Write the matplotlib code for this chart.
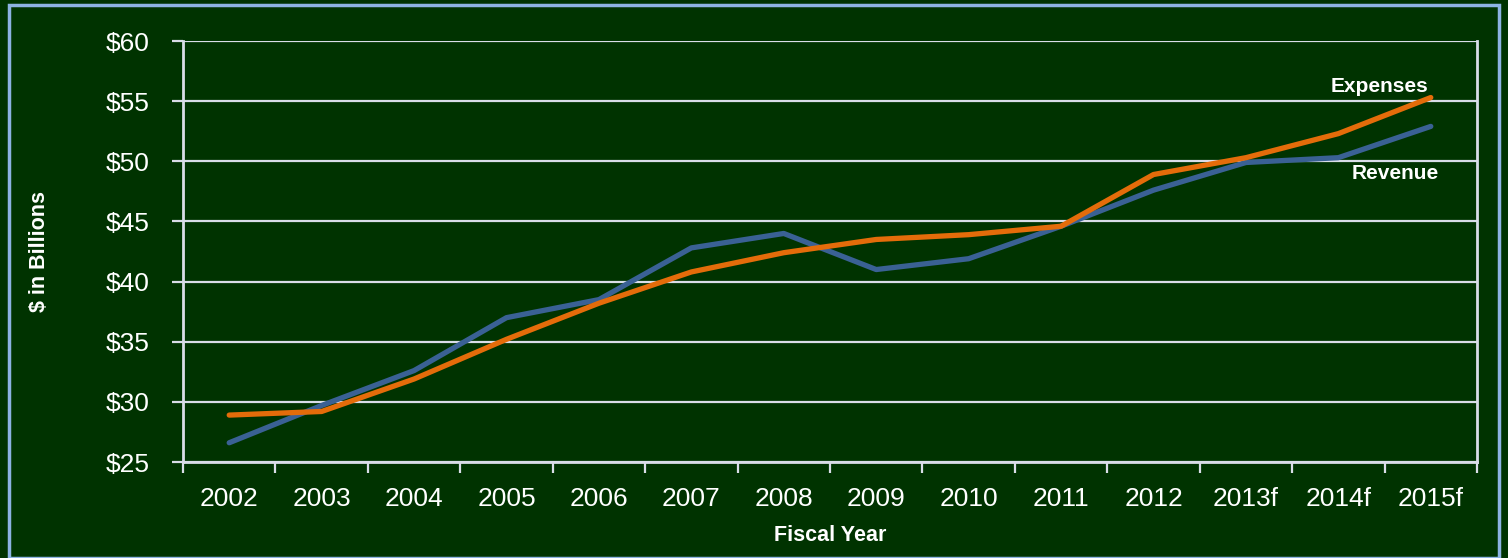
import matplotlib.pyplot as plt
import matplotlib.patches as patches
import numpy as np

years = ['2002', '2003', '2004', '2005', '2006', '2007', '2008',
         '2009', '2010', '2011', '2012', '2013f', '2014f', '2015f']
revenue = [26.6, 29.7, 32.6, 37.0, 38.5, 42.8, 44.0,
           41.0, 41.9, 44.6, 47.6, 49.9, 50.3, 52.9]
expenses = [28.9, 29.2, 31.9, 35.2, 38.2, 40.8, 42.4,
            43.5, 43.9, 44.6, 48.9, 50.3, 52.3, 55.3]
y_ticks = [25, 30, 35, 40, 45, 50, 55, 60]

bg = '#003300'
grid_col = '#d9dde8'

plt.rcParams['font.family'] = ['Liberation Sans', 'DejaVu Sans']

fig = plt.figure(figsize=(15.08, 5.58), dpi=100, facecolor=bg)
fig.patches.append(patches.Rectangle((9 / 1508, 0), 1 - 18 / 1508, 1 - 5 / 558,
                                     transform=fig.transFigure, fill=False,
                                     edgecolor='#8db3e2', linewidth=2.5))

ax = fig.add_axes([183 / 1508, 1 - 462 / 558, 1294 / 1508, 421 / 558])
ax.set_facecolor(bg)

x = np.arange(len(years))
ax.plot(x, revenue, color='#3a6194', linewidth=3.8, solid_capstyle='round', zorder=3)
ax.plot(x, expenses, color='#e46c0a', linewidth=3.8, solid_capstyle='round', zorder=4)

ax.set_xlim(-0.5, len(years) - 0.5)
ax.set_ylim(25, 60)
ax.set_yticks(y_ticks)
ax.set_yticklabels([f'${v}' for v in y_ticks])
ax.yaxis.grid(True, color=grid_col, linewidth=1.6)
ax.set_axisbelow(True)

ax.set_xticks(x)
ax.set_xticklabels(years)
ax.set_xticks(np.arange(-0.5, len(years), 1), minor=True)
ax.tick_params(axis='x', which='major', length=0, pad=18, labelsize=19, colors='white')
ax.tick_params(axis='x', which='minor', length=8, width=1.6, color=grid_col)
ax.tick_params(axis='y', length=8, width=1.6, color=grid_col, pad=16,
               labelsize=19, labelcolor='white')

for side in ['left', 'bottom', 'right']:
    ax.spines[side].set_color(grid_col)
    ax.spines[side].set_linewidth(2)
ax.spines['top'].set_visible(False)

ax.set_xlabel('Fiscal Year', color='white', fontsize=15.5, fontweight='bold', labelpad=10)
ax.set_ylabel('$ in Billions', color='white', fontsize=15.5, fontweight='bold', labelpad=40)

ax.text(12.45, 55.4, 'Expenses', color='white', fontsize=15, fontweight='bold',
        ha='center', va='bottom')
ax.text(12.62, 49.0, 'Revenue', color='white', fontsize=15, fontweight='bold',
        ha='center', va='center')

fig.savefig('out.png', dpi=100, facecolor=bg)
